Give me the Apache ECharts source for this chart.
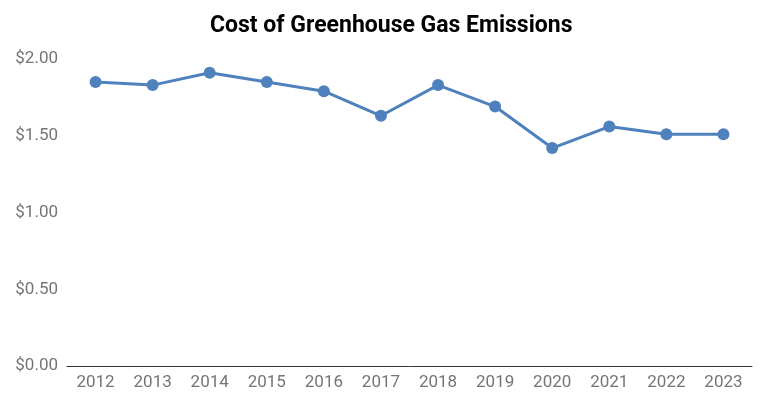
<!DOCTYPE html>
<html>
<head>
<meta charset="utf-8">
<script src="https://cdn.jsdelivr.net/npm/echarts@6/dist/echarts.min.js"></script>
<style>
html, body { margin: 0; padding: 0; background: #fff; }
#main { width: 762px; height: 398px; }
</style>
</head>
<body>
<div id="main"></div>
<script>
// 年份与数值
var years = ['2012', '2013', '2014', '2015', '2016', '2017', '2018', '2019', '2020', '2021', '2022', '2023'];
var costs = [1.85, 1.83, 1.91, 1.85, 1.79, 1.63, 1.83, 1.69, 1.42, 1.56, 1.51, 1.51];
var yTicks = [0, 0.5, 1, 1.5, 2];

var option = {
	animation: false,
	backgroundColor: '#fff',
	textStyle: {
		fontFamily: 'Roboto'
	},
	title: {
		text: 'Cost of Greenhouse Gas Emissions',
		left: 205,
		top: 10,
		textStyle: {
			fontFamily: 'Roboto',
			fontSize: 23,
			fontWeight: 'bold',
			color: '#000'
		}
	},
	grid: {
		left: 67,
		right: 10,
		top: 59,
		bottom: 32
	},
	xAxis: {
		type: 'category',
		data: years,
		boundaryGap: true,
		axisLine: {
			show: true,
			lineStyle: {
				color: '#333',
				width: 1
			}
		},
		axisTick: {
			show: false
		},
		axisLabel: {
			color: '#757575',
			fontSize: 17,
			margin: 8
		},
		splitLine: {
			show: false
		}
	},
	yAxis: {
		type: 'value',
		min: yTicks[0],
		max: yTicks[yTicks.length - 1],
		interval: 0.5,
		axisLine: {
			show: false
		},
		axisTick: {
			show: false
		},
		splitLine: {
			show: false
		},
		axisLabel: {
			color: '#757575',
			fontSize: 17,
			margin: 9,
			formatter: function(v) {
				return '$' + v.toFixed(2);
			}
		}
	},
	series: [{
		name: 'Cost',
		type: 'line',
		data: costs,
		symbol: 'circle',
		symbolSize: 12,
		lineStyle: {
			color: '#4f81bd',
			width: 3
		},
		itemStyle: {
			color: '#4f81bd'
		}
	}]
};
var myChart = echarts.init(document.getElementById('main'));
myChart.setOption(option, true);
</script>
</body>
</html>
